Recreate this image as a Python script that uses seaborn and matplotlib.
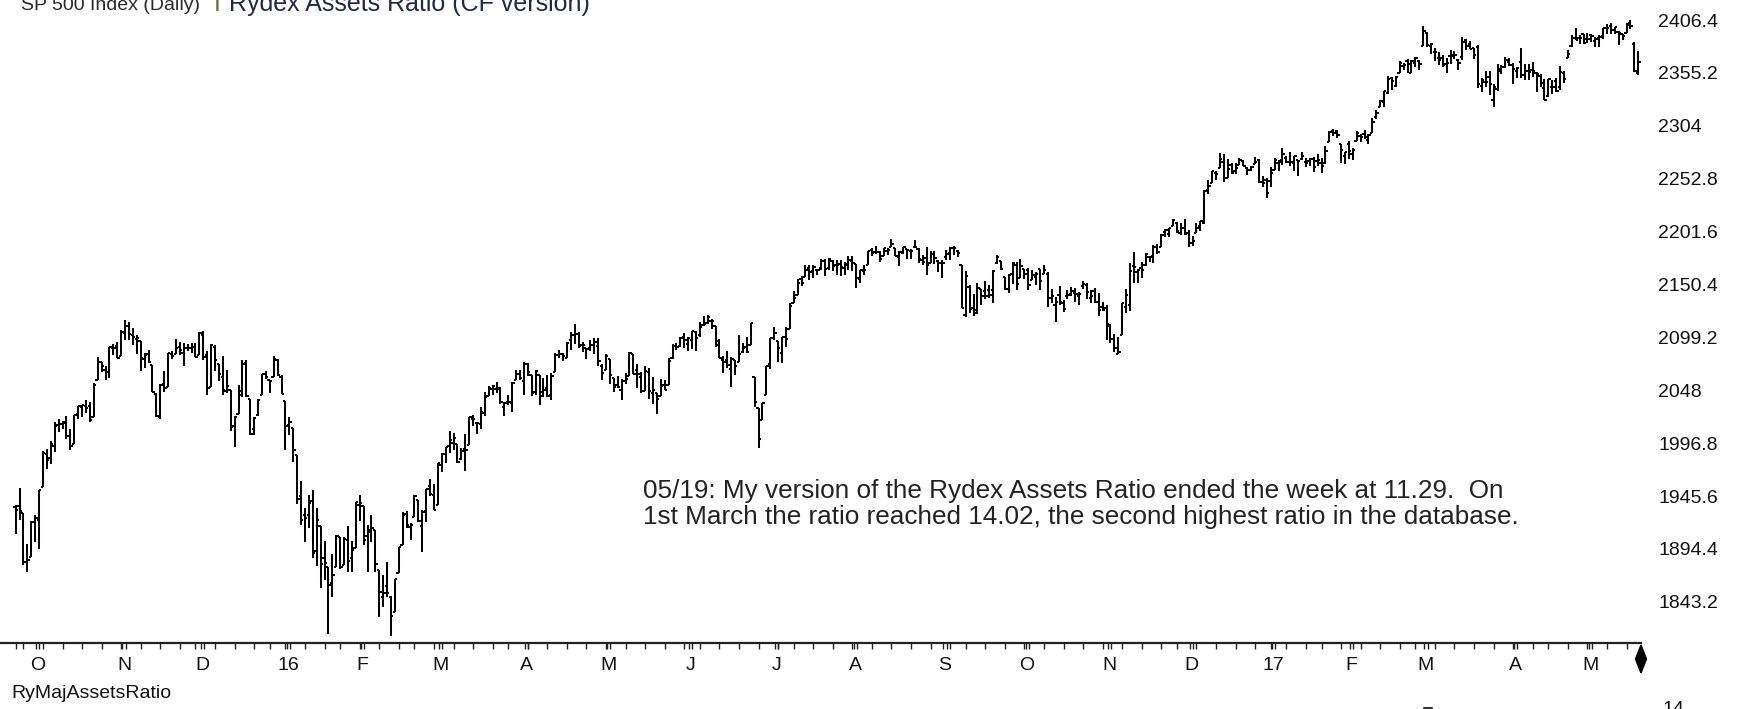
#!/usr/bin/env python3
"""
Daily S&P 500 OHLC bar chart with the Rydex Assets Ratio note
"""

import matplotlib.pyplot as plt
import matplotlib.patches as mpatches
import matplotlib.lines as mlines
import seaborn as sns
import pandas as pd
import numpy as np

# trading calendar: 2015-09-24 .. 2017-05-18
start_date = "2015-09-24"
end_date = "2017-05-18"
holidays = ["2015-11-26", "2015-12-25", "2016-01-01", "2016-01-18", "2016-02-15",
            "2016-03-25", "2016-05-30", "2016-07-04", "2016-09-05", "2016-11-24",
            "2016-12-26", "2017-01-02", "2017-01-16", "2017-02-20", "2017-04-14"]

# one line per month
opens = [
    1935, 1936, 1929, 1882, 1887,
    1920, 1922, 1954, 1986, 1982, 1994, 2014, 2015, 2016, 2004, 1996, 2025, 2032, 2033, 2033, 2022, 2058, 2075, 2068, 2066, 2089, 2091,
    2081, 2103, 2110, 2101, 2098, 2096, 2078, 2083, 2072, 2044, 2022, 2054, 2051, 2083, 2083, 2090, 2084, 2089, 2089, 2090,
    2082, 2101, 2082, 2051, 2090, 2073, 2061, 2047, 2048, 2013, 2025, 2047, 2074, 2040, 2010, 2024, 2043, 2064, 2058, 2061, 2077, 2061,
    2038, 2014, 2011, 1985, 1946, 1927, 1927, 1941, 1892, 1917, 1886, 1877, 1861, 1877, 1906, 1879, 1903, 1886, 1895,
    1937, 1936, 1907, 1911, 1913, 1874, 1848, 1858, 1848, 1833, 1871, 1898, 1928, 1916, 1925, 1942, 1917, 1931, 1955, 1947,
    1937, 1976, 1986, 1994, 1997, 1996, 1981, 1991, 1995, 2020, 2016, 2015, 2026, 2042, 2049, 2049, 2049, 2032, 2037, 2036, 2058, 2064,
    2057, 2073, 2063, 2046, 2063, 2046, 2050, 2043, 2066, 2082, 2083, 2079, 2097, 2101, 2102, 2092, 2089, 2089, 2092, 2091, 2071,
    2068, 2078, 2060, 2053, 2048, 2057, 2062, 2083, 2068, 2061, 2047, 2066, 2045, 2045, 2042, 2053, 2053, 2079, 2091, 2091, 2100,
    2093, 2097, 2104, 2101, 2111, 2113, 2115, 2110, 2092, 2077, 2077, 2069, 2077, 2075, 2085, 2090, 2092, 2061, 2031, 2019, 2043, 2073,
    2099, 2096, 2084, 2100, 2107, 2132, 2140, 2156, 2158, 2166, 2163, 2164, 2166, 2173, 2166, 2173, 2169, 2170, 2166, 2169,
    2173, 2170, 2156, 2163, 2169, 2184, 2182, 2182, 2178, 2183, 2187, 2186, 2177, 2181, 2185, 2183, 2187, 2185, 2174, 2176, 2171, 2180, 2173,
    2171, 2177, 2181, 2186, 2183, 2169, 2121, 2148, 2128, 2123, 2146, 2144, 2145, 2145, 2171, 2173, 2158, 2146, 2161, 2169, 2157,
    2165, 2164, 2155, 2158, 2165, 2161, 2161, 2137, 2131, 2140, 2132, 2139, 2141, 2142, 2139, 2149, 2150, 2137, 2144, 2133, 2129,
    2128, 2110, 2098, 2083, 2101, 2129, 2131, 2168, 2162, 2166, 2169, 2177, 2178, 2187, 2187, 2201, 2199, 2207, 2210, 2200, 2205,
    2200, 2191, 2200, 2207, 2210, 2242, 2249, 2258, 2263, 2269, 2253, 2266, 2260, 2266, 2270, 2263, 2261, 2267, 2271, 2250, 2252,
    2251, 2261, 2268, 2271, 2273, 2269, 2268, 2271, 2272, 2269, 2270, 2272, 2270, 2268, 2268, 2288, 2299, 2299, 2286, 2275,
    2286, 2277, 2289, 2294, 2296, 2290, 2297, 2313, 2322, 2327, 2336, 2350, 2343, 2355, 2362, 2367, 2355, 2365, 2367,
    2381, 2394, 2381, 2375, 2370, 2370, 2364, 2372, 2372, 2368, 2371, 2387, 2383, 2379, 2380, 2343, 2346, 2351, 2329, 2340, 2357, 2361, 2366,
    2363, 2357, 2366, 2353, 2357, 2358, 2355, 2352, 2341, 2333, 2342, 2347, 2342, 2355, 2370, 2381, 2389, 2389, 2393,
    2388, 2392, 2386, 2389, 2391, 2399, 2401, 2397, 2395, 2393, 2394, 2404, 2383, 2355,
]
highs = [
    1937, 1953, 1929, 1899, 1921,
    1927, 1951, 1989, 1991, 1999, 2017, 2020, 2018, 2023, 2010, 2024, 2033, 2034, 2039, 2037, 2055, 2080, 2075, 2071, 2090, 2093, 2095,
    2106, 2116, 2114, 2108, 2101, 2096, 2084, 2087, 2072, 2045, 2054, 2067, 2084, 2086, 2098, 2095, 2094, 2093, 2094, 2094,
    2104, 2105, 2086, 2093, 2092, 2073, 2081, 2068, 2048, 2023, 2053, 2077, 2077, 2040, 2022, 2040, 2064, 2067, 2058, 2081, 2078, 2063,
    2038, 2022, 2011, 1985, 1960, 1934, 1947, 1951, 1934, 1917, 1902, 1877, 1889, 1908, 1906, 1906, 1917, 1902, 1940,
    1947, 1936, 1918, 1927, 1913, 1874, 1869, 1882, 1849, 1865, 1896, 1930, 1931, 1919, 1947, 1942, 1932, 1952, 1962, 1957,
    1978, 1987, 1993, 2009, 2007, 1996, 1992, 2006, 2022, 2024, 2016, 2032, 2046, 2052, 2053, 2056, 2051, 2037, 2043, 2056, 2068, 2068,
    2075, 2074, 2063, 2068, 2063, 2060, 2063, 2065, 2084, 2087, 2084, 2095, 2104, 2112, 2104, 2095, 2089, 2097, 2099, 2099, 2073,
    2083, 2078, 2060, 2062, 2059, 2065, 2085, 2083, 2073, 2066, 2071, 2070, 2061, 2045, 2059, 2058, 2079, 2093, 2094, 2100, 2103,
    2100, 2105, 2105, 2114, 2120, 2121, 2117, 2110, 2098, 2081, 2086, 2080, 2077, 2101, 2094, 2100, 2113, 2061, 2031, 2036, 2071, 2099,
    2109, 2096, 2100, 2109, 2132, 2144, 2156, 2159, 2169, 2169, 2169, 2164, 2175, 2175, 2176, 2174, 2174, 2174, 2172, 2178,
    2178, 2170, 2164, 2169, 2183, 2186, 2188, 2183, 2186, 2186, 2194, 2186, 2183, 2187, 2185, 2185, 2193, 2186, 2179, 2187, 2183, 2183, 2174,
    2174, 2184, 2187, 2188, 2184, 2169, 2163, 2150, 2141, 2152, 2146, 2154, 2150, 2164, 2179, 2173, 2158, 2161, 2172, 2172, 2175,
    2165, 2166, 2164, 2162, 2165, 2169, 2162, 2146, 2138, 2149, 2135, 2145, 2148, 2147, 2143, 2154, 2152, 2145, 2147, 2142, 2133,
    2131, 2112, 2102, 2100, 2132, 2146, 2171, 2182, 2165, 2172, 2181, 2178, 2189, 2190, 2199, 2204, 2205, 2214, 2211, 2210, 2214,
    2203, 2197, 2210, 2212, 2242, 2252, 2260, 2260, 2278, 2277, 2272, 2268, 2268, 2273, 2271, 2264, 2265, 2274, 2272, 2255, 2253,
    2264, 2273, 2271, 2283, 2275, 2279, 2275, 2271, 2279, 2273, 2273, 2274, 2277, 2273, 2284, 2299, 2301, 2300, 2286, 2279,
    2289, 2283, 2299, 2296, 2300, 2296, 2312, 2319, 2329, 2338, 2352, 2351, 2352, 2367, 2365, 2369, 2368, 2371, 2368,
    2401, 2395, 2384, 2379, 2375, 2373, 2370, 2377, 2376, 2369, 2390, 2388, 2386, 2379, 2382, 2350, 2357, 2357, 2344, 2364, 2363, 2371, 2370,
    2365, 2361, 2379, 2364, 2364, 2366, 2356, 2354, 2349, 2349, 2348, 2350, 2362, 2357, 2377, 2392, 2399, 2392, 2393,
    2394, 2393, 2390, 2392, 2399, 2403, 2404, 2400, 2396, 2393, 2404, 2406, 2385, 2376,
]
lows = [
    1909, 1922, 1879, 1872, 1887,
    1901, 1894, 1954, 1972, 1977, 1988, 2008, 2010, 2001, 1990, 1996, 2020, 2022, 2026, 2017, 2022, 2058, 2066, 2058, 2060, 2082, 2079,
    2081, 2097, 2097, 2092, 2083, 2067, 2070, 2074, 2046, 2022, 2020, 2046, 2051, 2078, 2083, 2082, 2071, 2086, 2084, 2080,
    2082, 2077, 2043, 2051, 2067, 2057, 2043, 2045, 2009, 1993, 2025, 2041, 2041, 2005, 2005, 2023, 2043, 2059, 2045, 2061, 2062, 2044,
    1990, 2005, 1979, 1938, 1918, 1901, 1915, 1886, 1878, 1857, 1864, 1812, 1848, 1877, 1875, 1879, 1872, 1872, 1895,
    1921, 1898, 1872, 1901, 1872, 1828, 1838, 1848, 1810, 1833, 1871, 1898, 1915, 1903, 1925, 1920, 1891, 1920, 1946, 1932,
    1937, 1969, 1978, 1987, 1990, 1978, 1980, 1970, 1995, 2013, 2006, 2010, 2023, 2042, 2043, 2045, 2035, 2023, 2034, 2027, 2058, 2058,
    2043, 2062, 2042, 2043, 2034, 2041, 2041, 2039, 2066, 2079, 2076, 2079, 2087, 2093, 2089, 2085, 2078, 2086, 2083, 2071, 2058,
    2068, 2054, 2046, 2050, 2039, 2054, 2062, 2064, 2050, 2045, 2047, 2040, 2035, 2025, 2042, 2048, 2053, 2078, 2087, 2090, 2089,
    2086, 2088, 2086, 2100, 2110, 2112, 2107, 2090, 2079, 2065, 2070, 2051, 2063, 2075, 2084, 2084, 2092, 2032, 1992, 2019, 2043, 2069,
    2097, 2075, 2074, 2090, 2107, 2132, 2140, 2149, 2158, 2155, 2157, 2160, 2164, 2159, 2164, 2163, 2160, 2159, 2160, 2164,
    2163, 2147, 2152, 2160, 2169, 2178, 2180, 2172, 2178, 2179, 2187, 2178, 2168, 2180, 2175, 2175, 2186, 2171, 2169, 2160, 2171, 2170, 2162,
    2157, 2174, 2174, 2179, 2177, 2128, 2119, 2123, 2120, 2122, 2131, 2136, 2137, 2132, 2170, 2164, 2145, 2142, 2151, 2145, 2157,
    2156, 2145, 2155, 2150, 2145, 2161, 2129, 2132, 2114, 2131, 2124, 2136, 2139, 2133, 2131, 2146, 2136, 2132, 2132, 2120, 2125,
    2097, 2094, 2085, 2083, 2101, 2123, 2125, 2152, 2152, 2157, 2168, 2172, 2171, 2180, 2187, 2196, 2196, 2207, 2200, 2198, 2198,
    2187, 2188, 2200, 2202, 2209, 2238, 2249, 2252, 2263, 2250, 2253, 2257, 2257, 2266, 2265, 2256, 2260, 2267, 2249, 2245, 2234,
    2245, 2261, 2260, 2266, 2268, 2265, 2260, 2255, 2271, 2264, 2265, 2259, 2265, 2258, 2267, 2288, 2294, 2292, 2268, 2267,
    2272, 2271, 2289, 2288, 2291, 2286, 2297, 2311, 2322, 2322, 2335, 2339, 2342, 2355, 2358, 2355, 2355, 2361, 2358,
    2381, 2380, 2374, 2367, 2363, 2361, 2355, 2364, 2369, 2358, 2368, 2377, 2378, 2369, 2341, 2337, 2342, 2334, 2322, 2338, 2354, 2360, 2362,
    2344, 2350, 2350, 2348, 2348, 2351, 2337, 2342, 2329, 2332, 2335, 2337, 2339, 2345, 2370, 2380, 2387, 2383, 2383,
    2384, 2385, 2380, 2380, 2388, 2393, 2393, 2393, 2382, 2387, 2394, 2398, 2356, 2353,
]
closes = [
    1932, 1931, 1882, 1884, 1920,
    1924, 1951, 1987, 1980, 1996, 2013, 2015, 2017, 2004, 1994, 2024, 2033, 2034, 2031, 2019, 2053, 2075, 2071, 2066, 2090, 2089, 2079,
    2104, 2110, 2102, 2100, 2099, 2079, 2082, 2075, 2046, 2023, 2053, 2050, 2084, 2081, 2089, 2087, 2089, 2089, 2090, 2080,
    2103, 2080, 2050, 2092, 2077, 2064, 2048, 2052, 2012, 2022, 2043, 2073, 2042, 2006, 2021, 2039, 2064, 2061, 2057, 2078, 2063, 2044,
    2013, 2017, 1990, 1943, 1922, 1924, 1939, 1890, 1922, 1880, 1881, 1859, 1869, 1907, 1877, 1904, 1883, 1893, 1940,
    1939, 1903, 1913, 1915, 1880, 1853, 1852, 1852, 1829, 1865, 1896, 1927, 1918, 1918, 1946, 1921, 1930, 1952, 1948, 1932,
    1978, 1986, 1993, 2000, 2002, 1979, 1989, 1990, 2022, 2020, 2016, 2027, 2041, 2050, 2052, 2050, 2037, 2036, 2037, 2055, 2064, 2060,
    2073, 2066, 2045, 2067, 2042, 2048, 2042, 2062, 2082, 2083, 2081, 2094, 2101, 2102, 2091, 2092, 2088, 2092, 2095, 2076, 2065,
    2081, 2063, 2051, 2051, 2057, 2059, 2084, 2064, 2064, 2047, 2067, 2047, 2048, 2040, 2052, 2048, 2076, 2091, 2090, 2099, 2097,
    2099, 2105, 2099, 2109, 2112, 2119, 2115, 2096, 2079, 2075, 2072, 2078, 2071, 2083, 2089, 2085, 2113, 2037, 2001, 2036, 2071, 2099,
    2103, 2089, 2100, 2098, 2130, 2137, 2152, 2152, 2164, 2162, 2167, 2164, 2173, 2165, 2175, 2168, 2169, 2167, 2170, 2174,
    2171, 2157, 2164, 2164, 2183, 2181, 2182, 2175, 2186, 2184, 2190, 2178, 2182, 2187, 2184, 2183, 2187, 2175, 2172, 2169, 2180, 2176, 2171,
    2171, 2180, 2186, 2186, 2181, 2128, 2159, 2127, 2126, 2147, 2139, 2139, 2140, 2163, 2177, 2165, 2146, 2160, 2171, 2151, 2168,
    2161, 2150, 2160, 2161, 2154, 2164, 2137, 2139, 2133, 2133, 2127, 2140, 2144, 2141, 2141, 2151, 2143, 2139, 2133, 2126, 2126,
    2112, 2098, 2089, 2085, 2132, 2140, 2163, 2167, 2164, 2164, 2180, 2177, 2187, 2182, 2198, 2203, 2205, 2213, 2202, 2205, 2199,
    2191, 2192, 2205, 2212, 2241, 2246, 2260, 2257, 2272, 2253, 2262, 2258, 2263, 2271, 2265, 2261, 2264, 2269, 2250, 2249, 2239,
    2258, 2271, 2269, 2277, 2269, 2269, 2275, 2270, 2275, 2268, 2272, 2264, 2271, 2265, 2280, 2298, 2297, 2295, 2281, 2279,
    2280, 2281, 2297, 2293, 2293, 2295, 2308, 2316, 2328, 2338, 2349, 2347, 2351, 2365, 2363, 2364, 2367, 2370, 2364,
    2396, 2382, 2383, 2375, 2368, 2363, 2365, 2373, 2373, 2365, 2385, 2381, 2378, 2373, 2344, 2348, 2346, 2344, 2342, 2359, 2361, 2368, 2363,
    2359, 2360, 2353, 2357, 2356, 2357, 2354, 2345, 2329, 2349, 2342, 2338, 2356, 2349, 2374, 2389, 2387, 2389, 2384,
    2388, 2391, 2388, 2390, 2399, 2399, 2397, 2400, 2394, 2391, 2402, 2401, 2357, 2366,
]

y_ticks = [1843.2, 1894.4, 1945.6, 1996.8, 2048, 2099.2, 2150.4, 2201.6, 2252.8, 2304, 2355.2, 2406.4]
y_tick_labels = ["1843.2", "1894.4", "1945.6", "1996.8", "2048", "2099.2", "2150.4",
                 "2201.6", "2252.8", "2304", "2355.2", "2406.4"]
month_letters = ["J", "F", "M", "A", "M", "J", "J", "A", "S", "O", "N", "D"]

note_text = ("05/19: My version of the Rydex Assets Ratio ended the week at 11.29.  On\n"
             "1st March the ratio reached 14.02, the second highest ratio in the database.")

# build frame
dates = pd.bdate_range(start_date, end_date, freq="C", holidays=holidays)
df = pd.DataFrame({"date": dates, "open": opens, "high": highs, "low": lows, "close": closes})
df["idx"] = np.arange(len(df))

W, H = 1737, 709
sns.set_theme(style="white")
plt.rcParams["font.family"] = ["Liberation Sans", "DejaVu Sans"]

fig = plt.figure(figsize=(W / 100, H / 100), dpi=100)
axis_y = 643
ax = fig.add_axes([0, 1 - axis_y / H, 1641 / W, axis_y / H])

# OHLC bars
bar_color = "black"
bar_lw = 1.45
ax.vlines(df["idx"], df["low"], df["high"], color=bar_color, lw=bar_lw)
ax.hlines(df["open"], df["idx"] - 0.6, df["idx"], color=bar_color, lw=bar_lw)
ax.hlines(df["close"], df["idx"], df["idx"] + 0.6, color=bar_color, lw=bar_lw)

ax.set_xlim(-4.0, 415.7)
ax.set_ylim(1803.3, 2425.8)

sns.despine(ax=ax, left=True, right=True, top=True, bottom=False)
ax.spines["bottom"].set_color("#222222")
ax.spines["bottom"].set_linewidth(1.6)

# right price scale
ax.yaxis.tick_right()
ax.set_yticks(y_ticks)
ax.set_yticklabels(y_tick_labels)
ax.tick_params(axis="y", length=0, pad=12.5, labelsize=14, labelcolor="#111111")
ax.set_xticks([])
ax.grid(False)

# weekly / monthly ticks under the axis line
trans = ax.get_xaxis_transform()
tick_h = 6 / axis_y
week = df["date"].dt.isocalendar().week.astype(int)
week_start = df.index[(week != week.shift()).values]
month_start = df.index[(df["date"].dt.month != df["date"].dt.month.shift()).values][1:]

ax.vlines(df.loc[week_start, "idx"], -tick_h, 0, transform=trans, color="#222222",
          lw=1.0, clip_on=False)
for i in month_start:
    pos = df.loc[i, "idx"]
    ax.vlines([pos + 0.3, pos + 1.1], -tick_h, 0, transform=trans, color="#222222",
              lw=1.0, clip_on=False)
    d = df.loc[i, "date"]
    label = f"{d.year % 100:02d}" if d.month == 1 else month_letters[d.month - 1]
    ax.text(pos + 0.7, -23 / axis_y, label, transform=trans, ha="center", va="center",
            fontsize=14, color="#111111")

# end-of-data diamond marker
dx, dtop, dbot, dw = 1641, 645, 673, 5.5
diamond = mpatches.Polygon(
    [((dx) / W, 1 - dtop / H), ((dx + dw) / W, 1 - (dtop + dbot) / 2 / H),
     ((dx) / W, 1 - dbot / H), ((dx - dw) / W, 1 - (dtop + dbot) / 2 / H)],
    closed=True, transform=fig.transFigure, color="black")
fig.patches.append(diamond)

# header (clipped at the top edge like the source screenshot)
fig.text(21 / W, 1 - 9.5 / H, "SP 500 Index (Daily)", fontsize=14, va="baseline",
         color="#2a2a2a")
fig.text(214 / W, 1 - 11 / H, "I", fontsize=18, va="baseline", color="#6a6a3a")
fig.text(229 / W, 1 - 11 / H, "Rydex Assets Ratio (CF version)", fontsize=18,
         va="baseline", color="#1c2a48")

# note
fig.text(643 / W, 1 - 504 / H, note_text, fontsize=18.8, va="center", ha="left",
         color="#222222", linespacing=1.12)

# lower panel remnants
fig.text(11 / W, 1 - 694 / H, "RyMajAssetsRatio", fontsize=14, va="center",
         color="#111111")
fig.text(1663 / W, 1 - 701 / H, "14", fontsize=14, va="top", color="#111111")
fig.add_artist(mlines.Line2D([1424 / W, 1432 / W], [1 - 707.5 / H, 1 - 707.5 / H],
                             transform=fig.transFigure, color="#333333", lw=1.5))

fig.savefig("out.png", dpi=100)
plt.close(fig)
